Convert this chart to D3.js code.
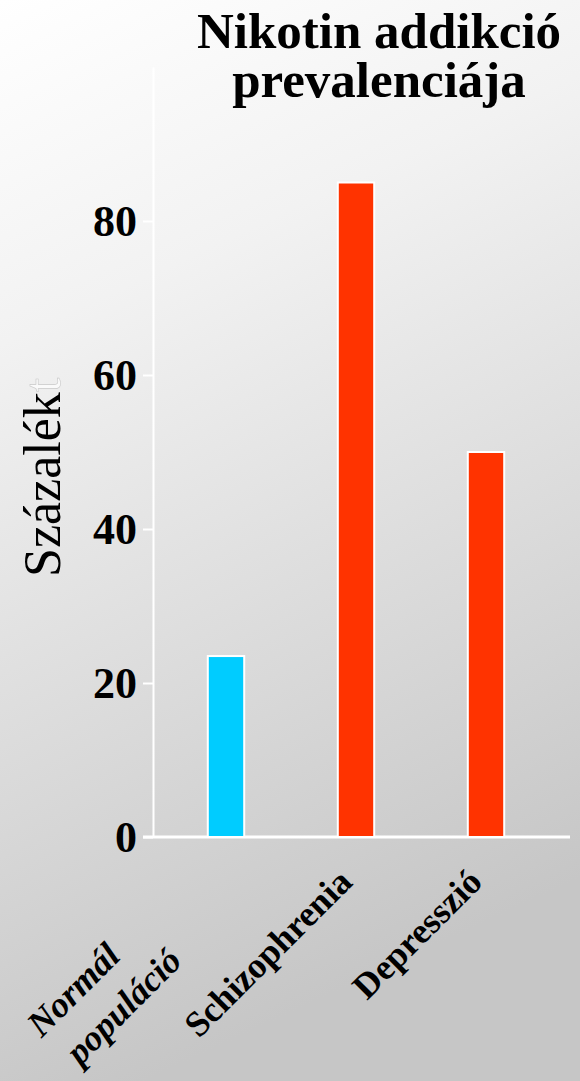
<!DOCTYPE html>
<html>
<head>
<meta charset="utf-8">
<script src="https://cdn.jsdelivr.net/npm/d3@7"></script>
<style>
  body { margin: 0; padding: 0; overflow: hidden; }
  svg { display: block; }
  text { font-family: "Liberation Serif", "Times New Roman", serif; }
</style>
</head>
<body>
<div id="chart"></div>
<script>
var width = 580, height = 1081;

// data
var categories = ['Normál populáció', 'Schizophrenia', 'Depresszió'];
var labelLines = [['Normál', 'populáció'], ['Schizophrenia'], ['Depresszió']];
var values = [23.5, 85, 50];
var barColors = ['#00ccff', '#ff3300', '#ff3300'];
var yTicks = [0, 20, 40, 60, 80];
var titleLines = ['Nikotin addikció', 'prevalenciája'];

var svg = d3.select('#chart')
  .append('svg')
  .attr('width', width)
  .attr('height', height);

// background gradient
var grad = svg.append('defs').append('linearGradient')
  .attr('id', 'bg')
  .attr('x1', '0').attr('y1', '0')
  .attr('x2', '0.25').attr('y2', '1');
grad.append('stop').attr('offset', '0').attr('stop-color', '#ffffff');
grad.append('stop').attr('offset', '0.3').attr('stop-color', '#f2f2f2');
grad.append('stop').attr('offset', '1').attr('stop-color', '#c6c6c6');

svg.append('rect')
  .attr('width', width)
  .attr('height', height)
  .attr('fill', 'url(#bg)');

var x = d3.scaleBand()
  .domain(categories)
  .range([161, 551])
  .paddingInner(0.72)
  .paddingOuter(0.36);

var y = d3.scaleLinear()
  .domain([0, 100])
  .range([837, 67]);

// title
svg.append('g').selectAll('text')
  .data(titleLines)
  .enter()
  .append('text')
  .attr('x', 379)
  .attr('y', (d, i) => 48 + i * 49)
  .attr('text-anchor', 'middle')
  .style('font-size', '51px')
  .style('font-weight', 'bold')
  .attr('fill', '#000')
  .text(d => d);

// y axis
var yAxis = svg.append('g')
  .attr('transform', 'translate(153,0)')
  .call(d3.axisLeft(y).tickValues(yTicks).tickSize(10).tickSizeOuter(0).tickPadding(6));

yAxis.select('.domain').attr('stroke', '#ffffff').attr('stroke-width', 2);
yAxis.selectAll('.tick line').attr('stroke', '#ffffff').attr('stroke-width', 2);
yAxis.selectAll('.tick text')
  .attr('fill', '#000')
  .attr('dy', '0.32em')
  .style('font-family', '"Liberation Serif", serif')
  .style('font-size', '44px')
  .style('font-weight', 'bold');

// baseline
svg.append('line')
  .attr('x1', 143)
  .attr('x2', 570)
  .attr('y1', y(0))
  .attr('y2', y(0))
  .attr('stroke', '#ffffff')
  .attr('stroke-width', 3);

// y label
var ylab = svg.append('text')
  .attr('transform', 'translate(60,577) rotate(-90)')
  .attr('text-anchor', 'start')
  .style('font-size', '52px')
  .attr('fill', '#000')
  .text('Százalék');
ylab.append('tspan')
  .attr('fill', '#fafafa')
  .attr('stroke', '#c8c8c8')
  .attr('stroke-width', 0.6)
  .text('t');

// bars
svg.append('g').selectAll('rect')
  .data(values)
  .enter()
  .append('rect')
  .attr('x', (d, i) => x(categories[i]))
  .attr('width', x.bandwidth())
  .attr('y', d => y(d))
  .attr('height', d => y(0) - y(d))
  .attr('fill', (d, i) => barColors[i])
  .attr('stroke', '#ffffff')
  .attr('stroke-width', 2);

// category labels, rotated
var labels = svg.append('g').selectAll('g')
  .data(labelLines)
  .enter()
  .append('g')
  .attr('transform', function(d, i) {
    var cx = x(categories[i]) + x.bandwidth() / 2;
    if (d.length > 1) return 'translate(' + (cx - 104) + ',' + 958 + ') rotate(-45)';
    return 'translate(' + (cx - 2) + ',' + 884 + ') rotate(-45)';
  });

labels.each(function(lines) {
  var g = d3.select(this);
  var multi = lines.length > 1;
  lines.forEach(function(line, j) {
    g.append('text')
      .attr('x', j * 40)
      .attr('y', j * 47)
      .attr('text-anchor', 'end')
      .style('font-size', '36px')
      .style('font-weight', 'bold')
      .style('font-style', multi ? 'italic' : 'normal')
      .attr('fill', '#000')
      .text(line);
  });
});
</script>
</body>
</html>
